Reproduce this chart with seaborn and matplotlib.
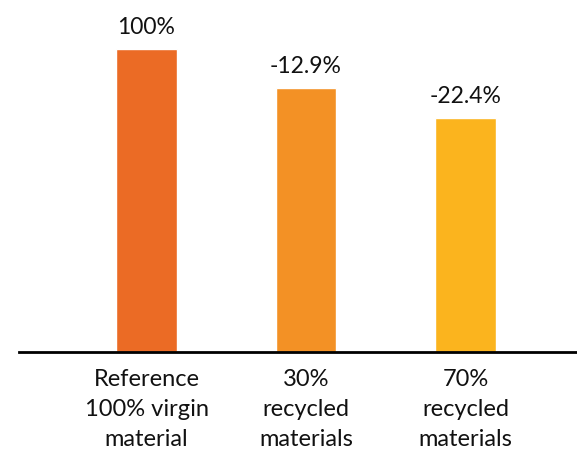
import pandas as pd
import seaborn as sns
import matplotlib.pyplot as plt

# chart data
categories = ['Reference\n100% virgin\nmaterial', '30%\nrecycled\nmaterials', '70%\nrecycled\nmaterials']
values = [100, 87.1, 77.1]
value_labels = ['100%', '-12.9%', '-22.4%']
colors = ['#EB6B25', '#F39125', '#FBB41E']

df = pd.DataFrame({'category': categories, 'value': values})

sns.set_style('white')
plt.rcParams['font.family'] = ['Lato', 'DejaVu Sans']

fig = plt.figure(figsize=(5.77, 4.55), dpi=100)
ax = fig.add_axes([19 / 577, 103 / 455, 558 / 577, 352 / 455])

sns.barplot(data=df, x='category', y='value', hue='category', palette=colors,
            width=0.38, legend=False, ax=ax, saturation=1)

for cont, lab in zip(ax.containers, value_labels):
    ax.bar_label(cont, labels=[lab], padding=8, fontsize=16.5, color='#111111')

ax.set_xlim(-0.8, 2.7)
ax.set_ylim(0, 116.2)
ax.set_xlabel('')
ax.set_ylabel('')
ax.set_yticks([])
ax.tick_params(axis='x', length=0, pad=12, labelsize=17, labelcolor='#111111')
for t in ax.get_xticklabels():
    t.set_linespacing(1.55)
for s in ['top', 'right', 'left']:
    ax.spines[s].set_visible(False)
ax.spines['bottom'].set_linewidth(2)
ax.spines['bottom'].set_color('#000000')

fig.savefig('out.png', dpi=100)
